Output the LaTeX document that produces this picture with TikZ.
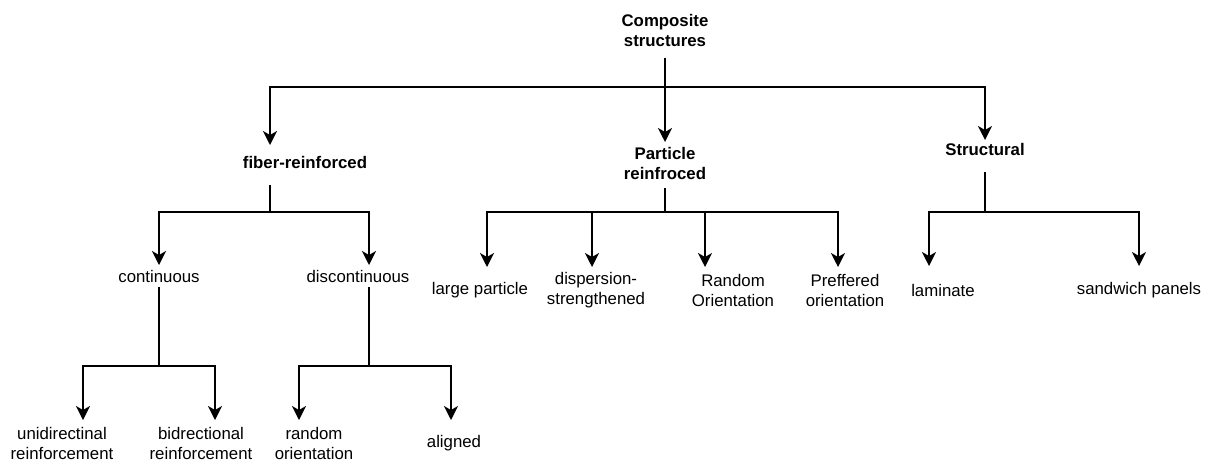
\documentclass[tikz,border=0pt]{standalone}
\usepackage{fontspec}
\setmainfont{Liberation Sans}
\usetikzlibrary{arrows.meta}
\tikzset{
  box/.style={inner sep=0pt,outer sep=0pt,align=center,font=\fontsize{16.8}{20}\selectfont},
  head/.style={box,font=\fontsize{16.8}{20}\selectfont\bfseries},
  link/.style={line width=1.5pt},
  arr/.style={link,-{Stealth[length=14pt,width=14pt,inset=4pt]}},
}
\begin{document}
\begin{tikzpicture}[x=1pt,y=-1pt]
\useasboundingbox (0,0) rectangle (1209,461);
\node[head,minimum height=56pt] (comp) at (665,30) {Composite\\structures};
\node[head,minimum height=34pt] (fib) at (305,162) {fiber-reinforced};
\node[head,minimum height=42pt] (part) at (665,163) {Particle\\reinfroced};
\node[head,minimum height=18pt] (str) at (985,149) {Structural};
\node[box,minimum height=22pt] (cont) at (159,276) {continuous};
\node[box,minimum height=22pt] (disc) at (358,276) {discontinuous};
\node[box,minimum height=46pt] (lp) at (480,290) {large particle};
\node[box,minimum height=46pt] (dsp) at (596,290) {dispersion-\\strengthened};
\node[box,minimum height=46pt] (ro) at (733,290) {Random\\Orientation};
\node[box,minimum height=46pt] (pref) at (845,290) {Preffered\\orientation};
\node[box,minimum height=48pt] (lam) at (943,290) {laminate};
\node[box,minimum height=48pt] (sand) at (1139,290) {sandwich panels};
\node[box,minimum height=46pt] (uni) at (62,443) {unidirectinal\\reinforcement};
\node[box,minimum height=46pt] (bid) at (201,443) {bidrectional\\reinforcement};
\node[box,minimum height=46pt] (rnd) at (314,443) {random\\orientation};
\node[box,minimum height=46pt] (ali) at (454,443) {aligned};
\coordinate (j0) at (665,87);
\coordinate (j1) at (270,212);
\coordinate (j2) at (665,212);
\coordinate (j3) at (985,212);
\coordinate (j4) at (159,366);
\coordinate (j5) at (369,366);
\draw[link] (comp.south) -- (j0);
\draw[arr] (j0) -| ([xshift=-35pt]fib.north);
\draw[arr] (j0) -- (part.north);
\draw[arr] (j0) -| (str.north);
\draw[link,shorten <=6pt] ([xshift=-35pt]fib.south) -- (j1);
\draw[arr] (j1) -| (cont.north);
\draw[arr] (j1) -| ([xshift=11pt]disc.north);
\draw[link,shorten <=4pt] (part.south) -- (j2);
\draw[arr] (j2) -| ([xshift=7pt]lp.north);
\draw[arr] (j2) -| ([xshift=-4pt]dsp.north);
\draw[arr] (j2) -| ([xshift=-28pt]ro.north);
\draw[arr] (j2) -| ([xshift=-7pt]pref.north);
\draw[link,shorten <=14pt] (str.south) -- (j3);
\draw[arr] (j3) -| ([xshift=-14pt]lam.north);
\draw[arr] (j3) -| (sand.north);
\draw[link] (cont.south) -- (j4);
\draw[arr] (j4) -| ([xshift=21pt]uni.north);
\draw[arr] (j4) -| ([xshift=14pt]bid.north);
\draw[link] ([xshift=11pt]disc.south) -- (j5);
\draw[arr] (j5) -| ([xshift=-15pt]rnd.north);
\draw[arr] (j5) -| ([xshift=-3pt]ali.north);
\end{tikzpicture}
\end{document}
